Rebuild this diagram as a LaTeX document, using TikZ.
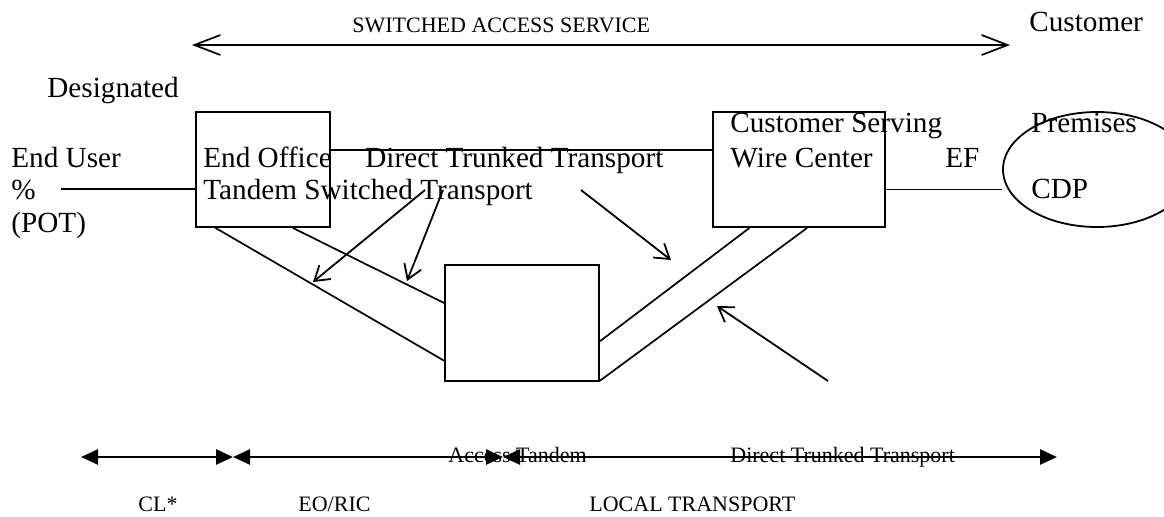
\documentclass[tikz,border=0pt]{standalone}
\usepackage{fontspec}
\setmainfont{Liberation Serif}
\usetikzlibrary{shapes.geometric,arrows.meta,calc}

\begin{document}
\begin{tikzpicture}[x=0.5pt,y=-0.5pt,
	box/.style={draw,line width=0.9pt,inner sep=0pt,minimum height=57.5pt},
	lbl/.style={anchor=base west,inner sep=0pt,font=\fontsize{14.6}{17}\selectfont},
	tiny/.style={anchor=base west,inner sep=0pt,font=\fontsize{11}{13}\selectfont},
	wire/.style={line width=0.85pt},
	span/.style={line width=1.3pt,{Triangle[length=8.5pt,width=7.5pt]}-{Triangle[length=8.5pt,width=7.5pt]}},
	ptr/.style={line width=0.9pt,-{Straight Barb[length=7pt,width=9pt]}}]
	\path[use as bounding box,clip] (0,0) rectangle (1164,516);
	% boxes
	\node [box,minimum width=67pt] (eo) at (263,169.5) {};
	\node [box,minimum width=77pt,minimum height=58pt] (at) at (522,323) {};
	\node [box,minimum width=86pt] (cswc) at (799,169.5) {};
	\node [draw,ellipse,line width=0.9pt,inner sep=0pt,minimum width=94pt,minimum height=57.5pt] (cdp) at (1097,169.5) {};
	% texts
	\node [tiny] (sas) at (352,32) {SWITCHED ACCESS SERVICE};
	\node [lbl] (cust) at (1029,31) {Customer};
	\node [lbl] (desig) at (47,97) {Designated};
	\node [lbl] (eu) at (11,167) {End User};
	\node [lbl] (pct) at (11,199) {\%};
	\node [lbl] (pot) at (11,232) {(POT)};
	\node [lbl] (eotxt) at (203,167) {End Office};
	\node [lbl] (tst) at (203,199) {Tandem Switched Transport};
	\node [lbl] (dtt) at (365,167) {Direct Trunked Transport};
	\node [lbl] (cs) at (730,132) {Customer Serving};
	\node [lbl] (wc) at (730,167) {Wire Center};
	\node [lbl] (ef) at (945,167) {EF};
	\node [lbl] (prem) at (1031,132) {Premises};
	\node [lbl] (cdptxt) at (1031,198) {CDP};
	\node [tiny] (atx) at (448,462) {Access Tandem};
	\node [tiny] (dtx) at (730,462) {Direct Trunked Transport};
	\node [tiny] (cl) at (138,511) {CL*};
	\node [tiny] (eoric) at (298,511) {EO/RIC};
	\node [tiny] (lt) at (589,511) {LOCAL TRANSPORT};
	% free ends
	\coordinate (sasL) at (192,45);
	\coordinate (sasR) at (1010,45);
	\coordinate (pot1) at (61,189);
	\coordinate (b0) at (81,457);
	\coordinate (b1) at (233,457);
	\coordinate (b2) at (503,457);
	\coordinate (b3) at (1057,457);
	\coordinate (p1s) at (425,190);
	\coordinate (p1e) at (313,282);
	\coordinate (p2s) at (443,190);
	\coordinate (p2e) at (407,281);
	\coordinate (p3s) at (581,190);
	\coordinate (p3e) at (671,260);
	\coordinate (p4s) at (828,381);
	\coordinate (p4e) at (717,306);
	% connectors
	\draw [wire,{Straight Barb[length=13pt,width=10pt]}-{Straight Barb[length=13pt,width=10pt]}] (sasL) -- (sasR);
	\draw [wire] (pot1) -- (pot1 -| eo.west);
	\draw [wire] ($(eo.north east)!0.33!(eo.south east)$) coordinate (t1) -- (t1 -| cswc.west);
	\draw [wire] ($(cswc.north east)!0.67!(cswc.south east)$) coordinate (t2) -- (t2 -| cdp.west);
	\draw [wire] ($(eo.south west)!0.15!(eo.south east)$) -- ($(at.north west)!0.82!(at.south west)$);
	\draw [wire] ($(eo.south west)!0.72!(eo.south east)$) -- ($(at.north west)!0.33!(at.south west)$);
	\draw [wire] ($(at.north east)!0.655!(at.south east)$) -- ($(cswc.south west)!0.215!(cswc.south east)$);
	\draw [wire] ($(at.north east)!0.99!(at.south east)$) -- ($(cswc.south west)!0.547!(cswc.south east)$);
	\draw [ptr] (p1s) -- (p1e);
	\draw [ptr] (p2s) -- (p2e);
	\draw [ptr] (p3s) -- (p3e);
	\draw [ptr] (p4s) -- (p4e);
	\draw [span] (b0) -- (b1);
	\draw [span] (b1) -- (b2);
	\draw [span] (b2) -- (b3);
\end{tikzpicture}
\end{document}
